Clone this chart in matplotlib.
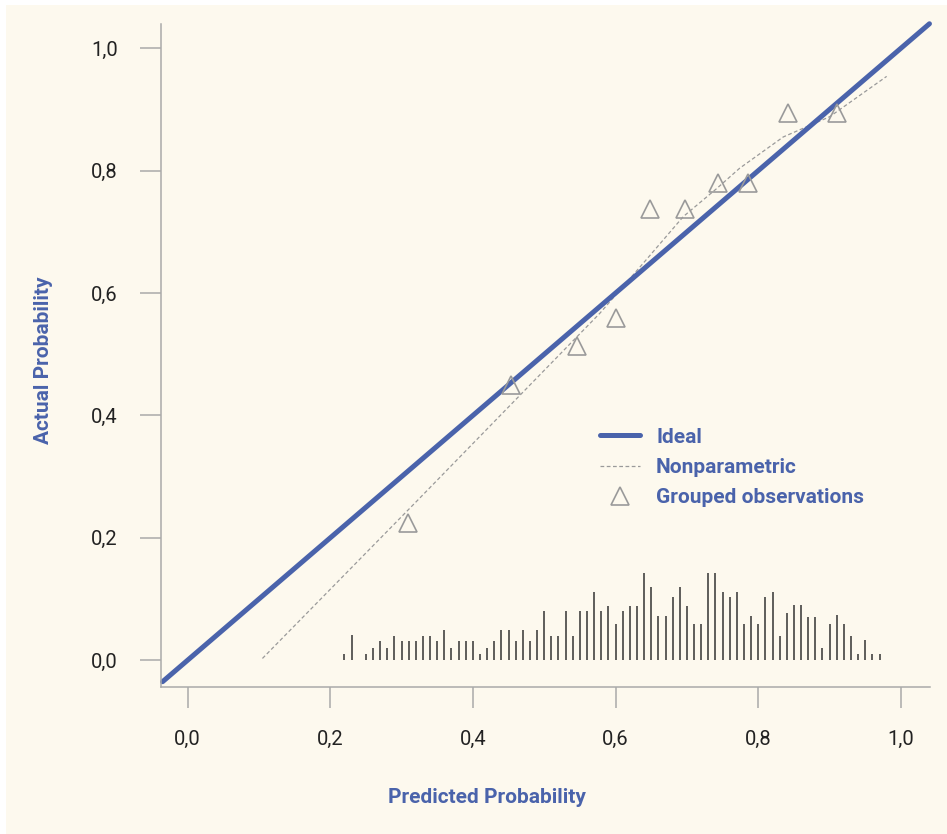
import matplotlib.pyplot as plt
from matplotlib.lines import Line2D
from matplotlib.patches import Rectangle
from matplotlib.ticker import FuncFormatter
import numpy as np

plt.rcParams['font.family'] = ['Roboto', 'DejaVu Sans']

BG = '#fdf9ee'
BLUE = '#4a63ab'
GREY = '#9a9a9a'

# ideal calibration line
ideal_x = [-0.035, 1.04]
ideal_y = [-0.035, 1.04]

# nonparametric (smoothed) calibration curve
np_x = [0.105, 0.323, 0.578, 0.639, 0.695, 0.742, 0.774, 0.835, 0.900, 0.980]
np_y = [0.003, 0.262, 0.567, 0.649, 0.725, 0.771, 0.804, 0.855, 0.888, 0.954]

# grouped observations
grp_x = [0.309, 0.453, 0.546, 0.600, 0.648, 0.697, 0.743, 0.786, 0.842, 0.911]
grp_y = [0.224, 0.450, 0.514, 0.559, 0.737, 0.737, 0.780, 0.780, 0.894, 0.894]

# distribution of predicted probabilities (spike histogram)
spike_x = [0.22, 0.23] + [round(0.25 + 0.01 * i, 2) for i in range(73)]
spike_h = [0.011, 0.041,
           0.011, 0.020, 0.032, 0.020, 0.039, 0.032, 0.032, 0.032, 0.039, 0.039,
           0.032, 0.050, 0.020, 0.032, 0.032, 0.032, 0.011, 0.020, 0.031, 0.049,
           0.049, 0.031, 0.049, 0.031, 0.049, 0.080, 0.040, 0.040, 0.080, 0.040,
           0.080, 0.080, 0.112, 0.080, 0.089, 0.060, 0.080, 0.089, 0.089, 0.143,
           0.120, 0.073, 0.073, 0.103, 0.120, 0.089, 0.060, 0.060, 0.143, 0.143,
           0.112, 0.103, 0.112, 0.060, 0.073, 0.060, 0.103, 0.112, 0.039, 0.077,
           0.090, 0.090, 0.071, 0.071, 0.020, 0.060, 0.074, 0.060, 0.040, 0.011,
           0.033, 0.011, 0.011]

ticks = [0.0, 0.2, 0.4, 0.6, 0.8, 1.0]

fig = plt.figure(figsize=(9.47, 8.34), dpi=100, facecolor='white')
fig.patches.append(Rectangle((6 / 947, 0), 1, 1 - 5 / 834, transform=fig.transFigure,
                             facecolor=BG, edgecolor='none', zorder=-10))
ax = fig.add_axes([0.1700, 0.1763, 0.8120, 0.7950])
ax.set_facecolor(BG)

ax.vlines(spike_x, 0, spike_h, color='#333333', linewidth=1.1)
ax.plot(np_x, np_y, color=GREY, linewidth=0.9, linestyle=(0, (3, 2)))
ax.plot(ideal_x, ideal_y, color=BLUE, linewidth=3.6, solid_capstyle='round', clip_on=False)
ax.plot(grp_x, grp_y, linestyle='none', marker='^', markersize=13,
        markerfacecolor='none', markeredgecolor=GREY, markeredgewidth=1.2)

ax.set_xlim(-0.0372, 1.0407)
ax.set_ylim(-0.0436, 1.0397)
ax.set_xticks(ticks)
ax.set_yticks(ticks)
fmt = FuncFormatter(lambda v, p: f'{v:.1f}'.replace('.', ','))
ax.xaxis.set_major_formatter(fmt)
ax.yaxis.set_major_formatter(fmt)

for s in ['top', 'right']:
    ax.spines[s].set_visible(False)
for s in ['left', 'bottom']:
    ax.spines[s].set_color('#aaaaaa')
    ax.spines[s].set_linewidth(1.1)
ax.tick_params(length=15, width=1.1, color='#aaaaaa', pad=16,
               labelsize=14.5, labelcolor='#222222')

ax.set_xlabel('Predicted Probability', fontsize=15, fontweight='bold',
              color=BLUE, va='center')
ax.xaxis.set_label_coords(0.424, -0.167)
ax.set_ylabel('Actual Probability', fontsize=15, fontweight='bold',
              color=BLUE, va='center')
ax.yaxis.set_label_coords(-0.1534, 0.493)

handles = [
    Line2D([], [], color=BLUE, linewidth=3.6, solid_capstyle='round'),
    Line2D([], [], color=GREY, linewidth=0.9, linestyle=(0, (3, 2))),
    Line2D([], [], linestyle='none', marker='^', markersize=13,
           markerfacecolor='none', markeredgecolor=GREY, markeredgewidth=1.2),
]
leg = ax.legend(handles, ['Ideal', 'Nonparametric', 'Grouped observations'],
                loc='upper left', bbox_to_anchor=(0.571, 0.391), frameon=False,
                borderpad=0, borderaxespad=0, handlelength=1.92, handletextpad=0.77,
                labelspacing=0.54, numpoints=1,
                prop={'size': 15, 'weight': 'bold'}, labelcolor=BLUE)

fig.savefig('out.png', dpi=100, facecolor=fig.get_facecolor())
